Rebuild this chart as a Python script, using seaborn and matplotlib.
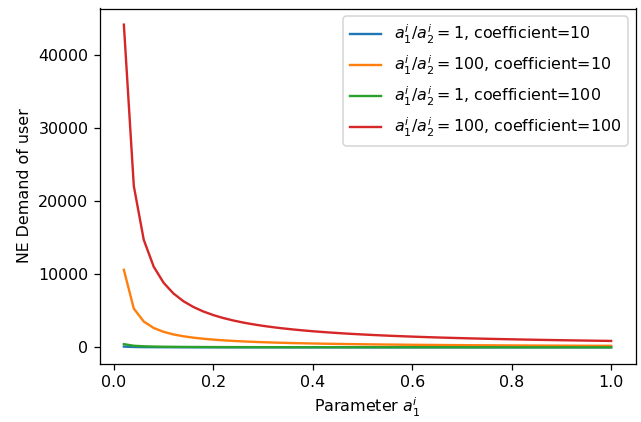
import numpy as np
import pandas as pd
import matplotlib
matplotlib.use('Agg')
import matplotlib.pyplot as plt
import seaborn as sns

# parameter a_1^i grid, 0.02 .. 1.00
x_vals = np.linspace(0.02, 1.0, 50)

blue_vals = [106, 53, 35, 27, 21, 18, 15, 13, 12, 11, 10, 9, 8, 8, 7, 7, 6, 6, 6, 5,
             5, 5, 5, 4, 4, 4, 4, 4, 4, 4, 3, 3, 3, 3, 3, 3, 3, 3, 3, 3,
             3, 3, 2, 2, 2, 2, 2, 2, 2, 2]
orange_vals = [10600, 5300, 3533, 2650, 2120, 1767, 1514, 1325, 1178, 1060,
               964, 883, 815, 757, 707, 663, 624, 589, 558, 530,
               505, 482, 461, 442, 424, 408, 393, 379, 366, 353,
               342, 331, 321, 312, 303, 294, 286, 279, 272, 265,
               259, 252, 247, 241, 236, 230, 226, 221, 216, 212]
green_vals = [441, 220, 147, 110, 88, 74, 63, 55, 49, 44, 40, 37, 34, 32, 29, 28, 26, 25, 23, 22,
              21, 20, 19, 18, 18, 17, 16, 16, 15, 15, 14, 14, 13, 13, 13, 12, 12, 12, 11, 11,
              11, 10, 10, 10, 10, 10, 9, 9, 9, 9]
red_vals = [44100, 22050, 14700, 11025, 8820, 7350, 6300, 5512, 4900, 4410,
            4009, 3675, 3392, 3150, 2940, 2756, 2594, 2450, 2321, 2205,
            2100, 2005, 1917, 1837, 1764, 1696, 1633, 1575, 1521, 1470,
            1423, 1378, 1336, 1297, 1260, 1225, 1192, 1161, 1131, 1102,
            1076, 1050, 1026, 1002, 980, 959, 938, 919, 900, 882]

labels = [r'$a_1^i/a_2^i=1$, coefficient=10',
          r'$a_1^i/a_2^i=100$, coefficient=10',
          r'$a_1^i/a_2^i=1$, coefficient=100',
          r'$a_1^i/a_2^i=100$, coefficient=100']
series = [blue_vals, orange_vals, green_vals, red_vals]
colors = sns.color_palette('tab10', 4)

dpi = 114
fig, ax = plt.subplots(figsize=(641 / dpi, 422 / dpi), dpi=dpi)
for vals, lab, col in zip(series, labels, colors):
    sns.lineplot(x=x_vals, y=vals, label=lab, color=col, ax=ax, linewidth=1.5)

for side in ['left', 'right', 'top', 'bottom']:
    ax.spines[side].set_visible(True)
    ax.spines[side].set_color('black')

ax.set_xlabel(r'Parameter $a_1^i$')
ax.set_ylabel('NE Demand of user')
ax.legend(loc='upper right')
plt.subplots_adjust(left=99.5 / 641, right=635.5 / 641, top=1 - 8.5 / 422, bottom=1 - 363.5 / 422)
plt.savefig('out.png', dpi=dpi)
plt.close()
